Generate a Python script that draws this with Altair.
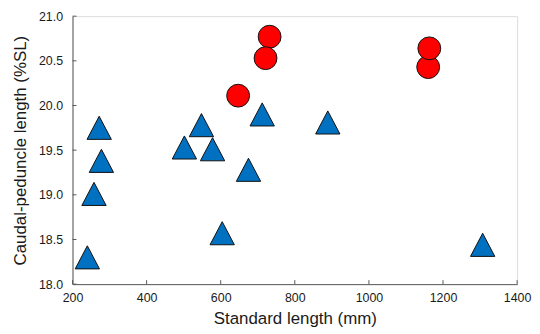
import altair as alt
import pandas as pd

# Blue triangles
blue_x = [240, 258, 272, 278, 502, 548, 578, 604, 675, 712, 889, 1307]
blue_y = [18.30, 19.01, 19.75, 19.38, 19.53, 19.78, 19.51, 18.57, 19.28, 19.90, 19.81, 18.44]
# Red circles (draw order matters for overlaps)
red_x = [647, 732, 721, 1160, 1163]
red_y = [20.11, 20.77, 20.53, 20.43, 20.64]

x_ticks = [200, 400, 600, 800, 1000, 1200, 1400]
y_ticks = [18.0, 18.5, 19.0, 19.5, 20.0, 20.5, 21.0]

W, H = 448, 270
FONT = "Liberation Sans"

blue = pd.DataFrame({"x": blue_x, "y": blue_y})
red = pd.DataFrame({"x": red_x, "y": red_y})
xt = pd.DataFrame({"v": x_ticks})
yt = pd.DataFrame({"v": y_ticks})

xs = alt.Scale(domain=[200, 1400], nice=False, zero=False)
ys = alt.Scale(domain=[18.0, 21.0], nice=False, zero=False)

xaxis = alt.Axis(values=x_ticks, format="d", ticks=False, grid=False,
                 domainColor="#595959", labelColor="#1a1a1a", labelFontSize=12.5,
                 labelFont=FONT, labelPadding=8, titleFont=FONT, titleFontSize=17,
                 titleFontWeight="normal", titleColor="#1a1a1a", titlePadding=6,
                 labelFlush=False)
yaxis = alt.Axis(values=y_ticks, format=".1f", ticks=False, grid=False,
                 domainColor="#595959", labelColor="#1a1a1a", labelFontSize=12.5,
                 labelFont=FONT, labelPadding=10, titleFont=FONT, titleFontSize=17,
                 titleFontWeight="normal", titleColor="#1a1a1a", titlePadding=9)

tri = "M0,-0.95L1,0.95L-1,0.95Z"

base_blue = alt.Chart(blue).mark_point(
    shape=tri, size=600, filled=True, fill="#0070C0", stroke="#111111",
    strokeWidth=1, opacity=1
).encode(
    x=alt.X("x:Q", scale=xs, axis=xaxis, title="Standard length (mm)"),
    y=alt.Y("y:Q", scale=ys, axis=yaxis, title="Caudal-peduncle length (%SL)"),
)

base_red = alt.Chart(red).mark_point(
    shape="circle", size=530, filled=True, fill="#FF0000", stroke="#111111",
    strokeWidth=1, opacity=1
).encode(
    x=alt.X("x:Q", scale=xs),
    y=alt.Y("y:Q", scale=ys),
)

xtick = alt.Chart(xt).mark_rule(color="#595959", strokeWidth=1).encode(
    x=alt.X("v:Q", scale=xs),
    y=alt.value(H), y2=alt.value(H - 4),
)
ytick = alt.Chart(yt).mark_rule(color="#595959", strokeWidth=1).encode(
    y=alt.Y("v:Q", scale=ys),
    x=alt.value(0), x2=alt.value(4),
)

chart = alt.layer(xtick, ytick, base_blue, base_red).properties(
    width=W, height=H,
    autosize=alt.AutoSizeParams(type="none"),
    padding={"left": 65, "top": 7, "right": 15, "bottom": 47},
).configure_view(stroke=None).configure(background="white")

chart.save("out.html", embed_options={"renderer": "svg", "actions": False})
